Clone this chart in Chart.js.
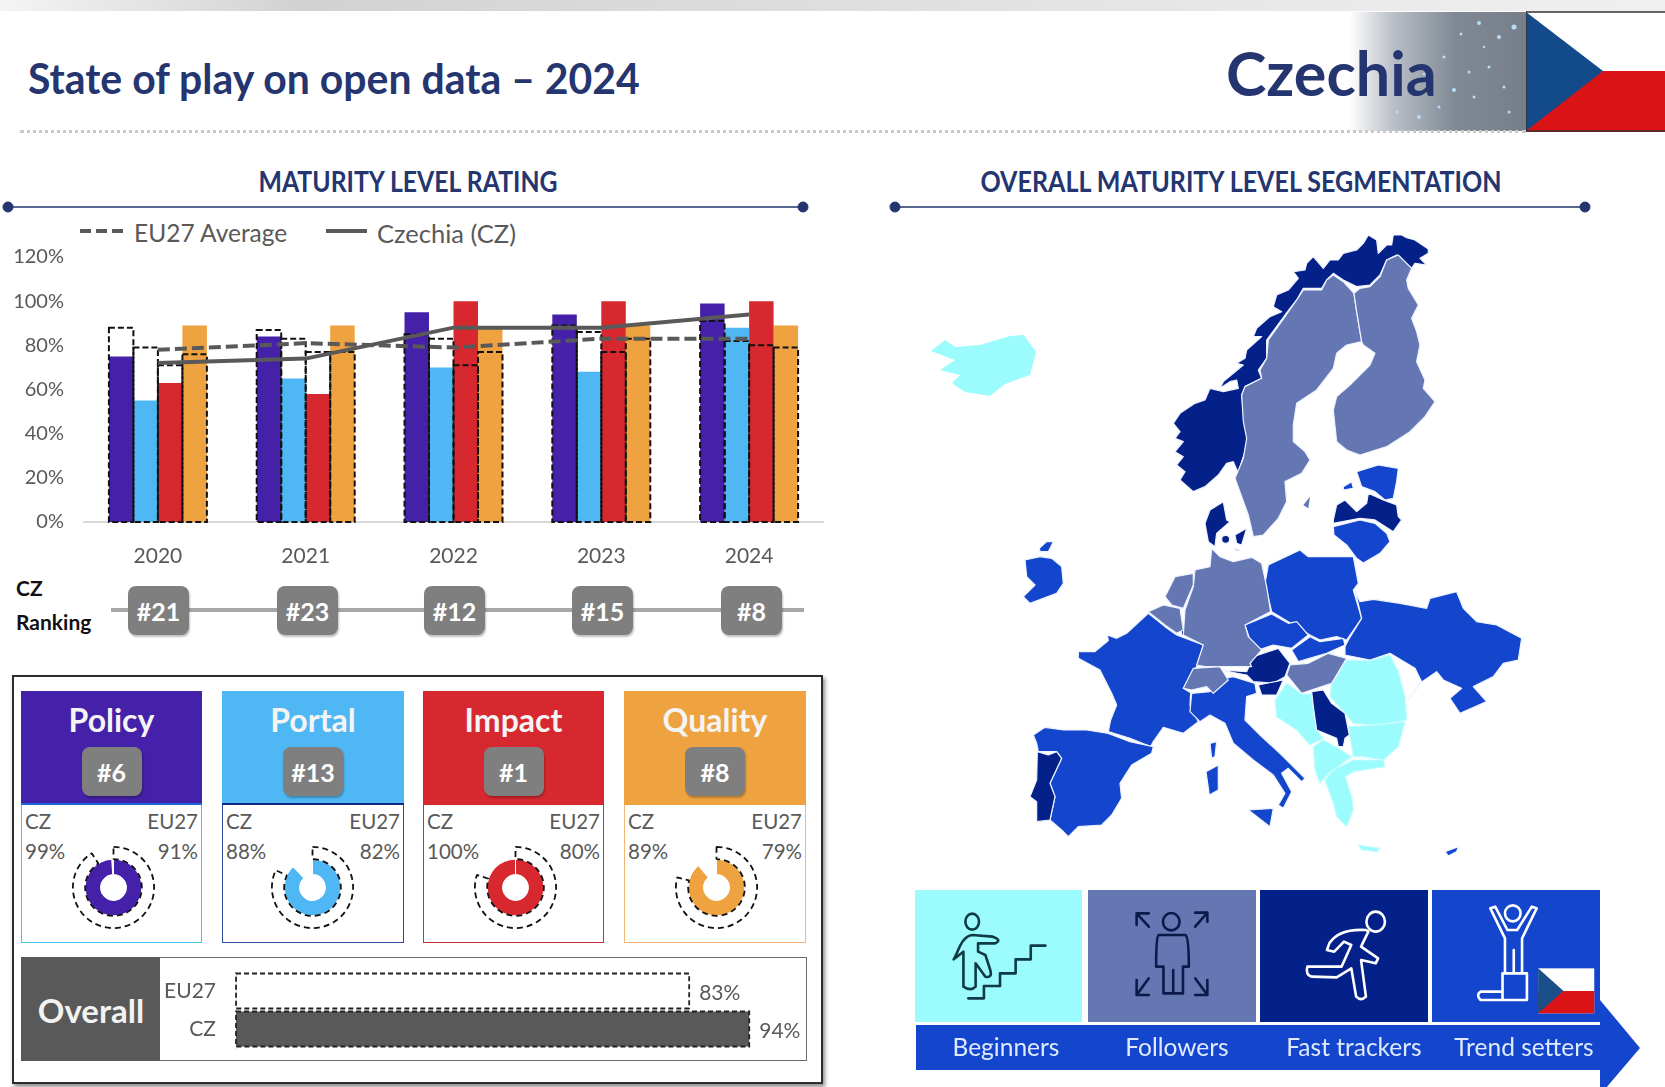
<!DOCTYPE html>
<html><head><meta charset="utf-8">
<script src="https://cdn.jsdelivr.net/npm/chart.js@4"></script>
<style>
html,body{margin:0;padding:0;background:#fff}
#page{position:relative;width:1665px;height:1087px;overflow:hidden;font-family:Lato,sans-serif;color:#595959;background:#fff}
#page>*{position:absolute}
.t{position:absolute;white-space:nowrap;line-height:1}
.c{transform:translate(-50%,-50%)}
.badge{position:absolute;background:#7f7f7f;border-radius:8px;color:#fff;font-weight:700;display:flex;align-items:center;justify-content:center;box-shadow:1px 2px 2px rgba(0,0,0,.25)}
canvas{position:absolute;display:block}
#map polygon,#map circle{vector-effect:non-scaling-stroke}
</style></head><body>
<div id="page">
 <div style="left:0;top:0;width:1665px;height:11px;background:linear-gradient(90deg,#f4f4f4,#d2d2d2 18%,#dedede 50%,#e6e6e6 70%,#f0f0f0)"></div>
 <div style="left:1349px;top:12px;width:177px;height:119px;background:linear-gradient(90deg,#fff 0,#b9bfc7 25%,#7f8994 60%,#777f89 100%)"></div>
 <svg style="left:1349px;top:12px" width="177" height="119" id="stars"></svg>
 <div style="left:20px;top:130px;width:1506px;height:0;border-top:3px dotted #c9c9c9"></div>
 <svg style="left:1526px;top:11px" width="139" height="121">
  <rect x="0" y="0" width="139" height="121" fill="#fff"/><rect x="0" y="60" width="139" height="61" fill="#d91316"/>
  <polygon points="0,1 77,60 0,120" fill="#134a8a"/>
  <path d="M0,1H139M0,0V121M0,120H139" stroke="#333" stroke-width="1.5" fill="none"/>
 </svg>
 <div class="t" style="left:28px;top:57px;font-size:42px;font-weight:700;color:#24356f;transform:scaleX(.975);transform-origin:left center">State of play on open data – 2024</div>
 <div class="t" style="left:1226px;top:42px;font-size:61px;font-weight:700;color:#24356f">Czechia</div>
 <div class="t" style="left:408px;top:181px;font-size:28px;font-weight:700;color:#24356f;transform:translate(-50%,-50%) scaleX(.886)">MATURITY LEVEL RATING</div>
 <div class="t" style="left:1241px;top:181px;font-size:28px;font-weight:700;color:#24356f;transform:translate(-50%,-50%) scaleX(.895)">OVERALL MATURITY LEVEL SEGMENTATION</div>
 <svg style="left:0;top:195px" width="1665" height="24" fill="#24356f" stroke="#24356f">
  <path d="M8,12H803M895,12H1585" stroke-width="1.5"/>
  <circle cx="8" cy="12" r="5"/><circle cx="803" cy="12" r="5"/><circle cx="895" cy="12" r="5"/><circle cx="1585" cy="12" r="5"/>
 </svg>
 <svg style="left:70px;top:222px" width="320" height="18" stroke="#595959" stroke-width="4">
  <path d="M10,9H53" stroke-dasharray="11 5"/><path d="M256,9H297"/>
 </svg>
 <div class="t" style="left:134px;top:221px;font-size:24.5px">EU27 Average</div>
 <div class="t" style="left:377px;top:221px;font-size:25.5px">Czechia (CZ)</div>
 <canvas id="main" width="830" height="330" style="left:0;top:241px;width:830px;height:330px"></canvas>
 <div class="t" style="left:16px;top:577px;font-size:21px;font-weight:700;color:#111">CZ</div>
 <div class="t" style="left:16px;top:611px;font-size:21px;font-weight:700;color:#111">Ranking</div>
 <div style="left:111px;top:608px;width:693px;height:4px;background:#a8a8a8"></div>
 <div id="ranks" style="left:0;top:0"></div>
 <div style="left:12px;top:675px;width:807px;height:405px;border:2px solid #2d2d2d;box-shadow:2px 3px 4px rgba(0,0,0,.45);background:#fff"></div>
 <div id="cards" style="left:0;top:0"></div>
 <div style="left:21px;top:957px;width:784px;height:102px;border:1.5px solid #6b6b6b;background:#fff"></div>
 <div style="left:21px;top:957px;width:139px;height:104px;background:#595959"></div>
 <div class="t c" style="left:91px;top:1010px;font-size:33px;font-weight:700;color:#f2f2f2">Overall</div>
 <canvas id="overall" width="640" height="100" style="left:160px;top:960px;width:640px;height:100px"></canvas>

 <svg id="map" style="left:0;top:0" width="1665" height="890" stroke="#eef3ff" stroke-width="1.2" stroke-linejoin="round">
  <g fill="#1346cc">
   <g transform="translate(1130,225) scale(.3333)">
    <polygon points="680,740 745,720 805,730 800,770 790,820 765,825 735,800 695,785"/>
    <polygon points="640,785 665,770 670,790 640,795"/>
    <polygon points="610,905 690,885 735,895 770,925 780,950 750,985 700,1014 680,1000 650,960 612,930"/>
   </g>
   <g transform="translate(1020,470) scale(.3333)">
    <polygon points="15,270 60,260 95,265 125,290 130,340 110,370 30,400 10,380 45,345 20,320"/>
    <polygon points="58,235 80,215 100,215 85,245 60,245"/>
    <polygon points="385,430 435,470 470,495 550,525 530,590 490,655 512,668 510,705 535,755 490,790 430,772 400,815 392,830 330,805 265,785 272,750 290,705 275,670 250,620 240,600 175,565 175,545 225,545 265,512 262,495 290,505 320,490"/>
   </g>
   <g transform="translate(1020,640) scale(.3333)">
    <polygon points="40,285 75,262 130,270 200,270 265,280 330,305 400,320 395,340 335,375 300,430 305,475 275,525 245,555 175,560 145,590 125,570 90,540 105,470 90,430 125,355 110,335 55,335 50,310"/>
    <polygon points="515,160 570,155 610,115 640,110 705,130 710,160 680,170 675,240 720,285 785,345 855,415 845,425 805,385 785,400 815,455 790,505 775,495 795,460 760,405 700,360 640,310 615,250 570,225 540,245 510,215"/>
    <polygon points="570,310 590,305 585,350 575,355"/>
    <polygon points="558,395 595,375 595,450 568,465"/>
    <polygon points="685,510 760,505 750,560"/>
   </g>
   <g transform="translate(1230,540) scale(.3333)">
    <polygon points="115,75 210,30 235,50 370,50 385,130 370,150 395,235 350,300 320,290 270,300 240,285 175,245 125,215 105,130"/>
    <polygon points="45,255 125,222 175,250 200,245 235,285 185,325 130,315 85,330 60,300"/>
    <polygon points="185,330 240,290 270,305 340,295 345,315 290,340 205,365"/>
    <polygon points="390,185 430,178 510,190 590,205 600,175 680,155 700,205 740,245 800,255 875,295 865,360 820,370 790,410 730,440 770,485 690,520 660,475 695,445 640,420 620,395 570,430 535,480 575,425 555,385 480,340 420,360 345,345 345,320 355,300 395,235 375,150"/>
    <polygon points="645,935 685,920 680,935 655,948"/>
   </g>
  </g>
  <g fill="#9bfbfd" stroke="#c4fdfe">
   <polygon stroke="none" points="931,351 945,340 955,347 980,345 1010,336 1024,335 1036,352 1030,375 1005,384 990,396 965,392 952,383 960,375 940,370 955,360"/>
   <g transform="translate(1230,540) scale(.3333)">
    <polygon points="305,430 350,360 420,362 480,345 505,395 525,470 530,540 440,555 370,550 345,520 300,470"/>
    <polygon points="355,560 440,555 525,545 505,620 460,660 400,650 370,650"/>
    <polygon points="135,480 170,430 215,462 245,462 250,505 260,570 280,595 240,615 200,570 140,530"/>
    <polygon points="250,620 280,600 325,625 365,650 310,690 295,700 270,730 255,690"/>
    <polygon points="285,720 310,690 370,660 460,660 465,680 370,695 345,710 365,770 370,810 350,860 320,830 310,790"/>
    <polygon points="385,915 450,925 440,935 395,930"/>
   </g>
  </g>
  <g fill="#04218a">
   <g transform="translate(1130,225) scale(.3333)">
    <polygon points="895,72 855,45 830,38 815,30 790,30 785,60 770,60 745,85 740,45 715,30 700,55 680,75 640,85 625,105 600,105 580,130 550,95 530,115 525,135 490,140 505,160 475,195 440,210 430,245 455,260 420,275 380,310 370,335 395,335 350,375 345,400 320,415 340,420 280,470 270,490 300,470 320,465 325,490 280,500 240,490 225,525 195,535 150,565 130,595 150,620 135,640 160,650 135,680 160,695 140,720 165,740 150,765 190,800 225,785 265,750 290,715 310,710 325,745 335,710 345,680 355,630 345,600 335,510 345,485 395,460 385,435 410,400 410,345 465,270 500,225 520,190 575,190 590,165 610,145 640,165 680,185 720,180 750,150 770,105 800,90 845,130 855,115 890,120 870,100 895,85"/>
    <polygon points="610,885 620,840 645,825 680,860 710,835 715,805 760,825 800,840 805,875 815,885 790,920 735,885 690,880 610,895"/>
   </g>
   <g transform="translate(1020,470) scale(.3333)">
    <polygon points="555,160 570,120 610,95 620,150 630,155 590,190 585,230 565,215"/>
    <circle cx="617" cy="208" r="12"/>
    <polygon points="645,195 680,175 665,225 650,220"/>
    <polygon points="640,235 660,240 650,243"/>
    <polygon points="483,475 497,475 500,495 485,495"/>
   </g>
   <g transform="translate(1020,640) scale(.3333)">
    <polygon points="52,335 85,345 110,335 125,355 90,430 105,470 90,540 50,545 50,485 30,470 50,420"/>
    <polygon points="600,90 680,95 700,50 775,25 810,70 795,110 760,130 700,125 680,105"/>
    <polygon points="715,135 790,120 770,165 725,165"/>
   </g>
   <g transform="translate(1230,540) scale(.3333)">
    <polygon points="245,455 280,450 305,490 345,520 358,585 345,595 340,620 325,620 320,595 260,570 250,500"/>
   </g>
  </g>
  <g fill="#6577b3">
   <g transform="translate(1130,225) scale(.3333)">
    <polygon points="610,150 640,170 672,205 680,260 695,350 650,360 620,385 610,430 560,495 500,535 490,600 490,650 525,680 540,705 515,745 465,770 470,830 445,880 400,930 370,935 355,870 315,760 340,700 350,640 340,590 335,510 345,485 395,460 390,435 410,400 415,345 465,275 500,225 520,195 575,195 590,165"/>
    <polygon points="695,350 680,260 672,205 690,190 720,185 750,155 770,105 805,90 845,130 830,165 835,190 865,240 845,280 860,320 870,360 860,410 885,465 880,490 915,530 885,575 840,620 770,665 690,690 650,675 620,650 610,555 620,515 660,480 720,420 735,385 700,360"/>
    <polygon stroke="none" points="520,840 540,815 535,850"/>
   </g>
   <g transform="translate(1020,470) scale(.3333)">
    <polygon points="575,235 600,260 640,275 695,262 725,280 740,350 752,425 675,465 685,500 725,540 690,580 695,590 555,590 530,585 550,525 490,495 495,420 520,350 525,300 570,290"/>
    <polygon points="435,380 465,320 520,310 520,345 490,415 455,405"/>
    <polygon points="385,425 430,405 480,415 490,480 470,490 435,465"/>
    <polygon points="490,655 520,595 600,590 625,630 580,670 560,650 515,660"/>
   </g>
   <g transform="translate(1230,540) scale(.3333)">
    <polygon points="170,405 180,375 235,370 295,340 350,355 305,430 215,460"/>
   </g>
  </g>
 </svg>

 <svg style="left:0;top:0" width="1665" height="1087" fill="#1346cc">
  <rect x="915" y="890" width="167" height="132" fill="#9bfbfd"/>
  <rect x="1088" y="890" width="168" height="132" fill="#6577b3"/>
  <rect x="1260" y="890" width="168" height="132" fill="#04218a"/>
  <rect x="1432" y="890" width="168" height="132"/>
  <polygon points="916,1025 1600,1025 1600,1000 1640,1048 1600,1095 1600,1070 916,1070"/>
 </svg>
 <svg style="left:900px;top:880px" width="765" height="207" viewBox="0 0 1568 621" preserveAspectRatio="none" fill="none" stroke-width="2.6" stroke-linejoin="round" stroke-linecap="round">
  <g stroke="#0f3b45">
   <ellipse vector-effect="non-scaling-stroke" cx="148" cy="125" rx="14" ry="24"/>
   <path vector-effect="non-scaling-stroke" d="M140,355H172V318H205V280H237V238H268V197H298"/>
   <path vector-effect="non-scaling-stroke" d="M148,165C125,170 120,215 110,238L130,215V320Q145,335 155,320V250L175,290Q190,295 185,270L175,225L160,215V190H195Q210,180 190,170Z"/>
  </g>
  <g stroke="#0c1a4a">
   <ellipse vector-effect="non-scaling-stroke" cx="556" cy="125" rx="17" ry="26"/>
   <path vector-effect="non-scaling-stroke" d="M530,165H585Q592,170 592,260H580V340H540V260H525Q525,170 530,165ZM560,270V340"/>
   <path vector-effect="non-scaling-stroke" d="M510,140L485,100V135M485,100H510M605,140L630,98V125M630,98H605M510,295L485,345V300M485,345H510M605,295L630,345V300M630,345H605"/>
  </g>
  <g stroke="#fff">
   <ellipse vector-effect="non-scaling-stroke" cx="975" cy="125" rx="19" ry="30"/>
   <path vector-effect="non-scaling-stroke" d="M955,150Q900,145 880,190L875,210L890,215L910,185L925,195L905,260L835,260Q830,285 845,290L895,292L925,265L935,350Q945,365 955,350L945,240L975,250L980,235L945,200L960,155Z"/>
   <ellipse vector-effect="non-scaling-stroke" cx="1256" cy="100" rx="16" ry="24"/>
   <path vector-effect="non-scaling-stroke" d="M1210,85L1240,175V280H1275V175L1305,85L1295,80L1265,150H1245L1220,80ZM1258,210V280M1235,280H1285V360H1235ZM1235,335H1190Q1180,345 1190,360H1235"/>
  </g>
  <rect x="1308" y="265" width="115" height="135" fill="#fff" stroke="none"/>
  <rect x="1308" y="333" width="115" height="67" fill="#d91316" stroke="none"/>
  <polygon points="1308,265 1360,333 1308,400" fill="#1b4f8a" stroke="none"/>
 </svg>
 <div id="levels" style="left:0;top:0"></div>
</div>
<script>
const years = ['2020','2021','2022','2023','2024'];
const yTicks = [0,20,40,60,80,100,120];
const policyCZ = [75,84,95,94,99];
const portalCZ = [55,65,70,68,88];
const impactCZ = [63,58,100,100,100];
const qualityCZ = [89,89,88,89,89];
const policyEU = [88,87,85,89,91];
const portalEU = [79,83,83,86,82];
const impactEU = [71,77,71,77,80];
const qualityEU = [76,77,77,83,79];
const lineEU = [78,81,79,83,83];
const lineCZ = [72,74,88,88,94];
const yearRanks = ['#21','#23','#12','#15','#8'];
const dimNames = ['Policy','Portal','Impact','Quality'];
const dimRanks = ['#6','#13','#1','#8'];
const dimCZ = [99,88,100,89];
const dimEU = [91,82,80,79];
const dimColors = ['#4520a8','#4fb7f3','#d8282f','#efa340'];
const dimBorders = ['#3cc5f0','#2e4a9a','#c8323a','#f3b677'];
const dimRules = ['#1a66d8','#0b2a80','#d8282f','#efa340'];
const overallLabels = ['EU27','CZ'];
const overallValues = [83,94];
const levelNames = ['Beginners','Followers','Fast trackers','Trend setters'];

Chart.defaults.font.family = 'Lato, sans-serif';
Chart.defaults.color = '#595959';
Chart.defaults.animation = false;

function el(parent, cls, css, text){const d=document.createElement('div');d.className=cls;d.style.cssText=css;if(text!==undefined)d.textContent=text;parent.appendChild(d);return d;}

const dashPlugin = {id:'dashedBars', afterDatasetDraw(chart,args){
  const ds = chart.data.datasets[args.index]; if(!ds.dashed) return;
  const ctx = chart.ctx; ctx.save(); ctx.setLineDash(ds.dashed); ctx.lineWidth = ds.dashWidth||2; ctx.strokeStyle = ds.dashColor||'#111';
  args.meta.data.forEach(b=>{
    if(chart.options.indexAxis==='y') ctx.strokeRect(b.base,b.y-b.height/2,b.x-b.base,b.height);
    else ctx.strokeRect(b.x-b.width/2,b.y,b.width,b.base-b.y);
  }); ctx.restore();
}};
const noPad = s => { s.paddingTop=0; s.paddingBottom=0; };

const euBar = (d,k)=>({type:'bar',data:d,stack:k,backgroundColor:'rgba(0,0,0,0)',dashed:[6,3],order:2,barPercentage:1,categoryPercentage:.663});
const czBar = (d,k,c)=>({type:'bar',data:d,stack:k,backgroundColor:c,order:3,barPercentage:1,categoryPercentage:.663});
new Chart(document.getElementById('main'),{
  plugins:[dashPlugin],
  data:{labels:years,datasets:[
    {type:'line',label:'Czechia (CZ)',data:lineCZ,borderColor:'#595959',borderWidth:4,pointRadius:0,tension:0,order:0},
    {type:'line',label:'EU27 Average',data:lineEU,borderColor:'#595959',borderWidth:4,borderDash:[12,5],pointRadius:0,tension:0,order:1},
    czBar(policyCZ,'policy',dimColors[0]),czBar(portalCZ,'portal',dimColors[1]),czBar(impactCZ,'impact',dimColors[2]),czBar(qualityCZ,'quality',dimColors[3]),
    euBar(policyEU,'policy'),euBar(portalEU,'portal'),euBar(impactEU,'impact'),euBar(qualityEU,'quality')
  ]},
  options:{responsive:false,layout:{padding:{top:16,right:7,left:0,bottom:0}},
    plugins:{legend:{display:false},tooltip:{enabled:false}},
    scales:{
      x:{stacked:true,grid:{display:false},border:{color:'#d9d9d9',width:2},ticks:{padding:14,font:{size:21},color:'#595959',maxRotation:0},afterFit(s){s.height=49;}},
      y:{stacked:false,min:0,max:120,grid:{display:false},border:{display:false},afterFit(s){s.width=84;noPad(s);},
        afterBuildTicks(s){s.ticks=yTicks.map(v=>({value:v}));},
        ticks:{padding:12,font:{size:20},color:'#595959',callback:v=>v+'%'}}
    }}
});

const rh = document.getElementById('ranks');
const rankX=[158,307,454,602,751];
yearRanks.forEach((r,i)=>el(rh,'badge',`left:${rankX[i]-30}px;top:586px;width:61px;height:49px;font-size:25px`,r));

const ch = document.getElementById('cards');
const cardX=[21,222,423,624], cardW=[181,182,181,182], donutX=[113,312,515,716];
dimNames.forEach((n,i)=>{
  const x=cardX[i],w=cardW[i],cx=x+w/2;
  el(ch,'',`position:absolute;left:${x}px;top:691px;width:${w-2}px;height:250px;border:1.5px solid ${dimBorders[i]};background:#fff`);
  el(ch,'',`position:absolute;left:${x}px;top:691px;width:${w}px;height:112px;background:${dimColors[i]};border-bottom:2px solid ${dimRules[i]}`);
  el(ch,'t c',`left:${cx}px;top:720px;font-size:32px;font-weight:700;color:#f4f4f4`,n);
  el(ch,'badge',`left:${cx-30}px;top:747px;width:60px;height:49px;font-size:25px`,dimRanks[i]);
  el(ch,'t',`left:${x+4}px;top:811px;font-size:20.5px`,'CZ');
  el(ch,'t',`left:${x+4}px;top:841px;font-size:20.5px`,dimCZ[i]+'%');
  el(ch,'t',`left:${x+w-4}px;top:811px;font-size:20.5px;transform:translateX(-100%)`,'EU27');
  el(ch,'t',`left:${x+w-4}px;top:841px;font-size:20.5px;transform:translateX(-100%)`,dimEU[i]+'%');
  const c=document.createElement('canvas');c.width=83;c.height=83;c.style.cssText=`left:${donutX[i]-41.5}px;top:846px;width:83px;height:83px`;ch.appendChild(c);
  new Chart(c,{type:'doughnut',data:{labels:['score','rest'],datasets:[
    {data:[dimEU[i],100-dimEU[i]],weight:12,backgroundColor:['rgba(0,0,0,0)','rgba(0,0,0,0)'],borderColor:['#111','rgba(0,0,0,0)'],borderWidth:1.8,borderDash:[6,4],borderAlign:'center'},
    {data:[dimCZ[i],100-dimCZ[i]],weight:15,backgroundColor:[dimColors[i],'rgba(0,0,0,0)'],borderColor:['#fff','rgba(0,0,0,0)'],borderWidth:1}
  ]},options:{responsive:false,cutout:'32%',plugins:{legend:{display:false},tooltip:{enabled:false}}}});
});

const valueLabels={id:'valueLabels',afterDatasetsDraw(chart){
  const m=chart.getDatasetMeta(0),ctx=chart.ctx;ctx.save();ctx.font='21px Lato';ctx.fillStyle='#595959';ctx.textBaseline='middle';
  m.data.forEach((b,i)=>ctx.fillText(overallValues[i]+'%',b.x+10,b.y+2));ctx.restore();
}};
new Chart(document.getElementById('overall'),{type:'bar',plugins:[dashPlugin,valueLabels],
  data:{labels:overallLabels,datasets:[{data:overallValues,backgroundColor:['rgba(0,0,0,0)','#595959'],barPercentage:.92,categoryPercentage:1,dashed:[5,3],dashWidth:1.8,dashColor:'#222'}]},
  options:{indexAxis:'y',responsive:false,layout:{padding:{top:12,bottom:12,right:18}},plugins:{legend:{display:false},tooltip:{enabled:false}},
    scales:{x:{display:false,min:0,max:100},
      y:{grid:{display:false},border:{color:'#d9d9d9',width:1},afterFit(s){s.width=76;noPad(s);},ticks:{padding:12,font:{size:21},color:'#595959'}}}}
});

const lh=document.getElementById('levels');
const levelX=[1006,1177,1354,1524];
levelNames.forEach((n,i)=>el(lh,'t c',`left:${levelX[i]}px;top:1047px;font-size:24.5px;color:#dfeaff`,n));

const stars=document.getElementById('stars');
[[130,11,2],[112,22,1.5],[95,45,1.5],[120,60,1.5],[140,55,1.5],[150,25,2],[165,15,2.5],[105,78,2],[70,105,2],[48,100,1.5],[90,95,1.5],[125,85,1.5],[155,75,1.5],[160,100,1.5],[135,35,1.2],[75,62,1.3]].forEach(s=>{
 const c=document.createElementNS('http://www.w3.org/2000/svg','circle');c.setAttribute('cx',s[0]);c.setAttribute('cy',s[1]);c.setAttribute('r',s[2]);c.setAttribute('fill','#b8dcf5');stars.appendChild(c);
});
</script>
</body></html>
